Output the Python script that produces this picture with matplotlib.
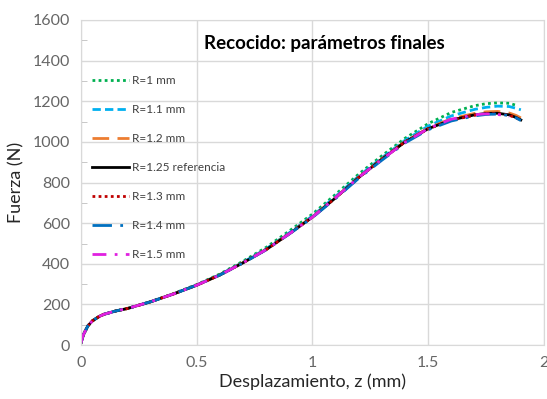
import numpy as np
import matplotlib
matplotlib.use('Agg')
import matplotlib.pyplot as plt
from matplotlib.ticker import MultipleLocator

nan = np.nan

# displacement (mm), shared by all curves
z = [0, 0.01, 0.03, 0.05, 0.08, 0.1, 0.15, 0.2, 0.3, 0.4, 0.5, 0.6, 0.7, 0.8,
     0.9, 1.0, 1.1, 1.2, 1.3, 1.4, 1.5, 1.6, 1.7, 1.75, 1.8, 1.85, 1.88, 1.9]

# force (N) for each radius
f_r100 = [10, 50, 95, 120, 142, 152, 168, 180, 214, 254, 298, 350, 413, 481,
          562, 645, 742, 842, 932, 1018, 1090, 1145, 1178, 1188, 1192, 1190, 1180, nan]
f_r110 = [10, 50, 95, 120, 142, 152, 168, 180, 213, 252, 296, 347, 408, 474,
          553, 636, 732, 832, 922, 1008, 1078, 1128, 1160, 1170, 1176, 1174, 1165, 1158]
f_r120 = [10, 50, 95, 120, 142, 152, 168, 180, 213, 252, 295, 346, 406, 471,
          550, 632, 727, 827, 917, 1002, 1068, 1114, 1140, 1148, 1150, 1142, 1130, 1118]
f_r125 = [10, 50, 95, 120, 142, 152, 168, 180, 213, 252, 295, 345, 405, 470,
          548, 630, 725, 825, 915, 1000, 1065, 1108, 1133, 1140, 1141, 1133, 1120, 1108]
f_r130 = [10, 50, 95, 120, 142, 152, 168, 180, 213, 252, 295, 345, 405, 470,
          548, 630, 725, 825, 915, 1000, 1064, 1107, 1131, 1138, 1139, 1131, 1118, 1106]
f_r140 = [10, 50, 95, 120, 142, 152, 168, 180, 213, 252, 295, 345, 404, 469,
          547, 628, 722, 821, 910, 995, 1060, 1103, 1128, 1135, 1137, 1130, 1118, 1105]
f_r150 = [10, 50, 95, 120, 142, 152, 168, 180, 213, 252, 295, 345, 405, 470,
          548, 630, 726, 826, 914, 998, 1066, 1112, 1134, 1138, 1135, 1125, nan, nan]

labels = ['R=1 mm', 'R=1.1 mm', 'R=1.2 mm', 'R=1.25 referencia',
          'R=1.3 mm', 'R=1.4 mm', 'R=1.5 mm']
series = [f_r100, f_r110, f_r120, f_r125, f_r130, f_r140, f_r150]
colors = ['#00B050', '#00B0F0', '#ED7D31', '#000000', '#C00000', '#0070C0', '#E020E0']
styles = [(0, (1, 1.2)), (0, (3, 1.5)), (0, (6, 3)), '-', (0, (1, 1.2)),
          (0, (7, 3, 1, 3)), (0, (5, 3, 1, 3))]

plt.rcParams['font.family'] = ['Lato', 'DejaVu Sans']

fig = plt.figure(figsize=(5.47, 3.99), dpi=100)
ax = fig.add_axes([0.148, 0.135, 0.8465, 0.815])

for f, lab, c, ls in zip(series, labels, colors, styles):
    ax.plot(z, f, color=c, linestyle=ls, linewidth=2, label=lab)

ax.set_xlim(0, 2)
ax.set_ylim(0, 1600)
ax.yaxis.set_major_locator(MultipleLocator(200))
ax.yaxis.set_minor_locator(MultipleLocator(100))
ax.set_xticks([0, 0.5, 1, 1.5, 2])
ax.set_xticklabels(['0', '0.5', '1', '1.5', '2'])
ax.grid(True, which='major', color='#D9D9D9', linewidth=1)
ax.set_axisbelow(True)
for s in ax.spines.values():
    s.set_color('#D9D9D9')
ax.tick_params(which='major', length=0, labelsize=11.5, labelcolor='#666666', pad=8)
ax.tick_params(axis='y', which='minor', direction='in', length=4, color='#BFBFBF')

ax.set_xlabel('Desplazamiento, z (mm)', fontsize=13, color='#262626', labelpad=2)
ax.set_ylabel('Fuerza (N)', fontsize=13, color='#262626', labelpad=6)
ax.text(0.525, 0.929, 'Recocido: parámetros finales', transform=ax.transAxes,
        ha='center', va='center', fontsize=13.5, fontweight='bold')

leg = ax.legend(loc='upper left', bbox_to_anchor=(0.0, 0.862), frameon=False,
                fontsize=8.5, handlelength=3.2, labelspacing=1.52, handletextpad=0.25)
for t in leg.get_texts():
    t.set_color('#404040')

fig.savefig('out.png', dpi=100)
